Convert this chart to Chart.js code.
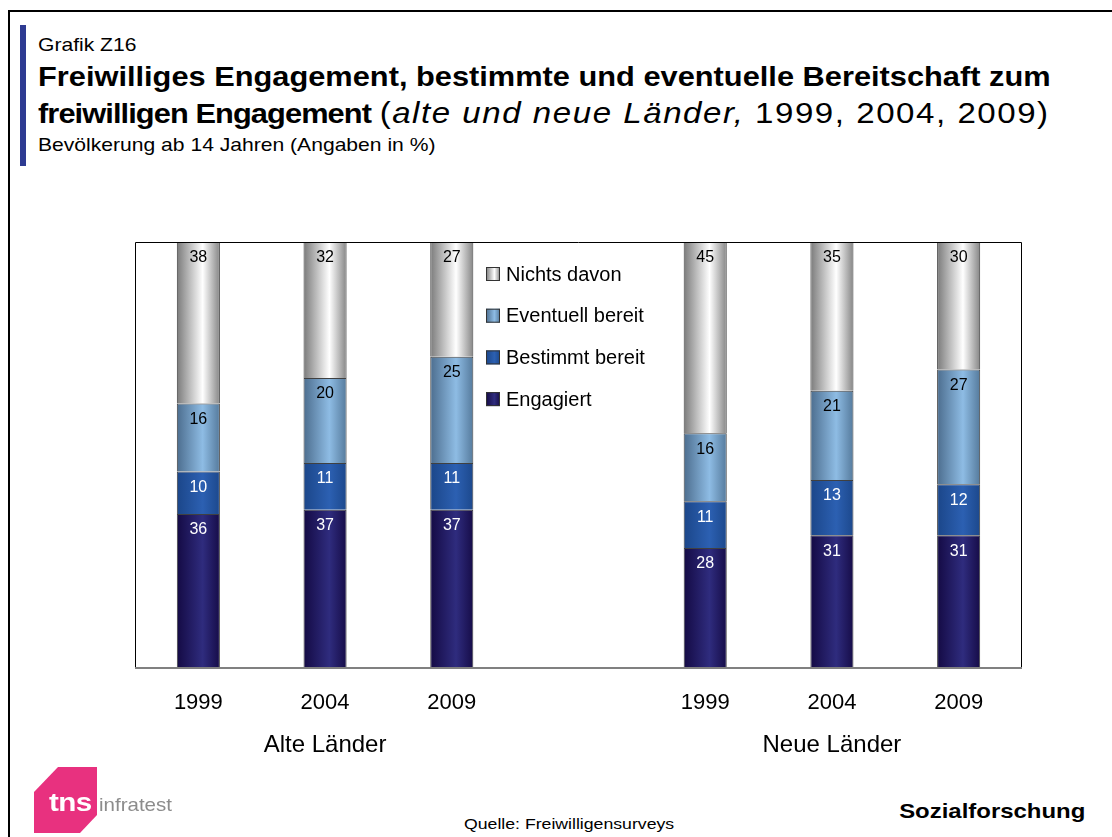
<!DOCTYPE html>
<html lang="de">
<head>
<meta charset="utf-8">
<title>Grafik Z16</title>
<script src="https://cdn.jsdelivr.net/npm/chart.js@4.4.1/dist/chart.umd.min.js"></script>
<style>
  html, body { margin: 0; padding: 0; background: #fff; }
  body { width: 1112px; height: 837px; position: relative; overflow: hidden; font-family: 'Liberation Sans', Arial, sans-serif; color: #000; }
  .rahmen { position: absolute; left: 8px; top: 10px; right: -10px; bottom: -10px; border-top: 2px solid #000; border-left: 2px solid #000; }
  .balken { position: absolute; left: 20px; top: 25px; width: 6px; height: 141px; background: #2e3b92; }
  .txt { position: absolute; white-space: nowrap; line-height: 1; transform-origin: 0 0; transform: scaleX(1.14); }
  .kopf { left: 38px; font-size: 18.5px; }
  .titel { left: 38px; font-size: 27px; }
  .titel b { font-weight: bold; }
  .titel b.eng { letter-spacing: -0.8px; }
  .titel .zusatz { font-size: 29px; letter-spacing: 1.35px; }
  .titel i { font-style: italic; }
  .sozial { right: 27px; top: 800px; font-size: 21px; font-weight: bold; transform-origin: 100% 0; }
  .quelle { left: 464px; top: 816px; font-size: 15.5px; }
  .logo { position: absolute; left: 0; top: 0; }
  .tns { left: 49px; top: 789px; font-size: 26px; font-weight: bold; color: #fff; letter-spacing: -0.5px; }
  .infratest { left: 99px; top: 795px; font-size: 19px; color: #8c8c8c; transform: scaleX(1.08); }
  #box { position: absolute; left: 0; top: 230px; width: 1112px; height: 540px; }
</style>
</head>
<body>
<div class="rahmen"></div>
<div class="balken"></div>
<div class="txt kopf" style="top:36px">Grafik Z16</div>
<div class="txt titel" style="top:64px"><b>Freiwilliges Engagement, bestimmte und eventuelle Bereitschaft zum</b></div>
<div class="txt titel" style="top:99px"><b class="eng">freiwilligen Engagement</b> <span class="zusatz">(<i>alte und neue Länder,</i> 1999, 2004, 2009)</span></div>
<div class="txt kopf" style="top:136px">Bevölkerung ab 14 Jahren (Angaben in %)</div>

<div id="box"><canvas id="diagramm"></canvas></div>

<svg class="logo" width="120" height="837">
  <polygon points="34,792 58,767 97,767 97,815 80,833 34,833" fill="#e8317f"/>
</svg>
<div class="txt tns">tns</div>
<div class="txt infratest">infratest</div>
<div class="txt quelle">Quelle: Freiwilligensurveys</div>
<div class="txt sozial">Sozialforschung</div>

<script>
const kategorien = ['1999', '2004', '2009', '', '1999', '2004', '2009'];
const gruppen = ['Alte Länder', 'Neue Länder'];
const gruppenSpalte = [1, 5];

const engagiert = [36, 37, 37, null, 28, 31, 31];
const bestimmtBereit = [10, 11, 11, null, 11, 13, 12];
const eventuellBereit = [16, 20, 25, null, 16, 21, 27];
const nichtsDavon = [38, 32, 27, null, 45, 35, 30];

const schrift = "'Liberation Sans', Arial, sans-serif";
const balkenAnteil = 0.34;

// Farbverlauf quer über den Balken: dunkle Kanten, helle Mitte
function zylinder(ctx, x0, x1, farben) {
  const g = ctx.createLinearGradient(x0, 0, x1, 0);
  g.addColorStop(0, farben[0]);
  g.addColorStop(0.6, farben[1]);
  g.addColorStop(1, farben[2]);
  return g;
}

function fuellung(farben) {
  return (c) => {
    const chart = c.chart;
    if (!chart.chartArea || c.type !== 'data') return farben[1];
    const x = chart.scales.x;
    const mitte = x.getPixelForValue(c.dataIndex);
    const breite = x.width / kategorien.length * balkenAnteil;
    return zylinder(chart.ctx, mitte - breite / 2, mitte + breite / 2, farben);
  };
}

const serien = [
  { label: 'Engagiert', data: engagiert, farben: ['#140a44', '#2f2c7e', '#160c48'], text: '#fff' },
  { label: 'Bestimmt bereit', data: bestimmtBereit, farben: ['#1b4689', '#2c60b2', '#1c488c'], text: '#fff' },
  { label: 'Eventuell bereit', data: eventuellBereit, farben: ['#4c6d8e', '#8ebce4', '#557a9c'], text: '#000' },
  { label: 'Nichts davon', data: nichtsDavon, farben: ['#7a7a7a', '#ffffff', '#858585'], text: '#000' }
];

const rahmen = {
  id: 'rahmen',
  afterDatasetsDraw(chart) {
    const { ctx, chartArea: a } = chart;
    ctx.save();
    ctx.strokeStyle = '#000';
    ctx.lineWidth = 1;
    ctx.beginPath();
    ctx.moveTo(a.left + 0.5, a.bottom);
    ctx.lineTo(a.left + 0.5, a.top + 0.5);
    ctx.lineTo(a.right - 0.5, a.top + 0.5);
    ctx.lineTo(a.right - 0.5, a.bottom);
    ctx.stroke();
    ctx.strokeStyle = '#808080';
    ctx.lineWidth = 2;
    ctx.beginPath();
    ctx.moveTo(a.left, a.bottom + 1);
    ctx.lineTo(a.right, a.bottom + 1);
    ctx.stroke();
    ctx.restore();
  }
};

const wertBeschriftung = {
  id: 'wertBeschriftung',
  afterDatasetsDraw(chart) {
    const ctx = chart.ctx;
    ctx.save();
    ctx.font = '16px ' + schrift;
    ctx.textAlign = 'center';
    ctx.textBaseline = 'middle';
    chart.data.datasets.forEach((ds, i) => {
      chart.getDatasetMeta(i).data.forEach((bar, j) => {
        const v = ds.data[j];
        if (v == null) return;
        ctx.fillStyle = serien[i].text;
        ctx.fillText(String(v), bar.x, bar.y + 16);
      });
    });
    ctx.restore();
  }
};

const legende = {
  id: 'legende',
  afterDraw(chart) {
    const { ctx, chartArea: a } = chart;
    const x0 = a.left + 351;
    let y = a.top + 32;
    ctx.save();
    ctx.font = '20px ' + schrift;
    ctx.textBaseline = 'middle';
    for (let i = serien.length - 1; i >= 0; i--) {
      ctx.fillStyle = zylinder(ctx, x0, x0 + 14, serien[i].farben);
      ctx.fillRect(x0, y - 7, 14, 14);
      ctx.strokeStyle = '#333';
      ctx.lineWidth = 1;
      ctx.strokeRect(x0 + 0.5, y - 6.5, 13, 13);
      ctx.fillStyle = '#000';
      ctx.fillText(serien[i].label, x0 + 20, y + 1);
      y += 41.7;
    }
    ctx.restore();
  }
};

const gruppenBeschriftung = {
  id: 'gruppenBeschriftung',
  afterDraw(chart) {
    const { ctx, chartArea: a, scales } = chart;
    ctx.save();
    ctx.font = '24px ' + schrift;
    ctx.fillStyle = '#000';
    ctx.textAlign = 'center';
    ctx.textBaseline = 'middle';
    gruppen.forEach((name, k) => {
      ctx.fillText(name, scales.x.getPixelForValue(gruppenSpalte[k]), a.bottom + 78);
    });
    ctx.restore();
  }
};

Chart.defaults.font.family = schrift;

new Chart(document.getElementById('diagramm'), {
  type: 'bar',
  data: {
    labels: kategorien,
    datasets: serien.map(s => ({
      label: s.label,
      data: s.data,
      backgroundColor: fuellung(s.farben),
      borderColor: 'rgba(30,30,30,0.85)',
      borderWidth: 1
    }))
  },
  options: {
    responsive: true,
    maintainAspectRatio: false,
    animation: false,
    layout: { padding: { left: 135, right: 90, top: 12, bottom: 0 } },
    datasets: { bar: { barPercentage: balkenAnteil, categoryPercentage: 1 } },
    plugins: {
      legend: { display: false },
      tooltip: { enabled: false },
      title: { display: false }
    },
    scales: {
      x: {
        stacked: true,
        grid: { display: false, drawTicks: false },
        border: { display: false },
        ticks: { color: '#000', font: { size: 22 }, padding: 23, maxRotation: 0, autoSkip: false },
        afterFit(s) { s.height = 103; }
      },
      y: { stacked: true, display: false, min: 0, max: 100 }
    }
  },
  plugins: [rahmen, wertBeschriftung, legende, gruppenBeschriftung]
});
</script>
</body>
</html>
